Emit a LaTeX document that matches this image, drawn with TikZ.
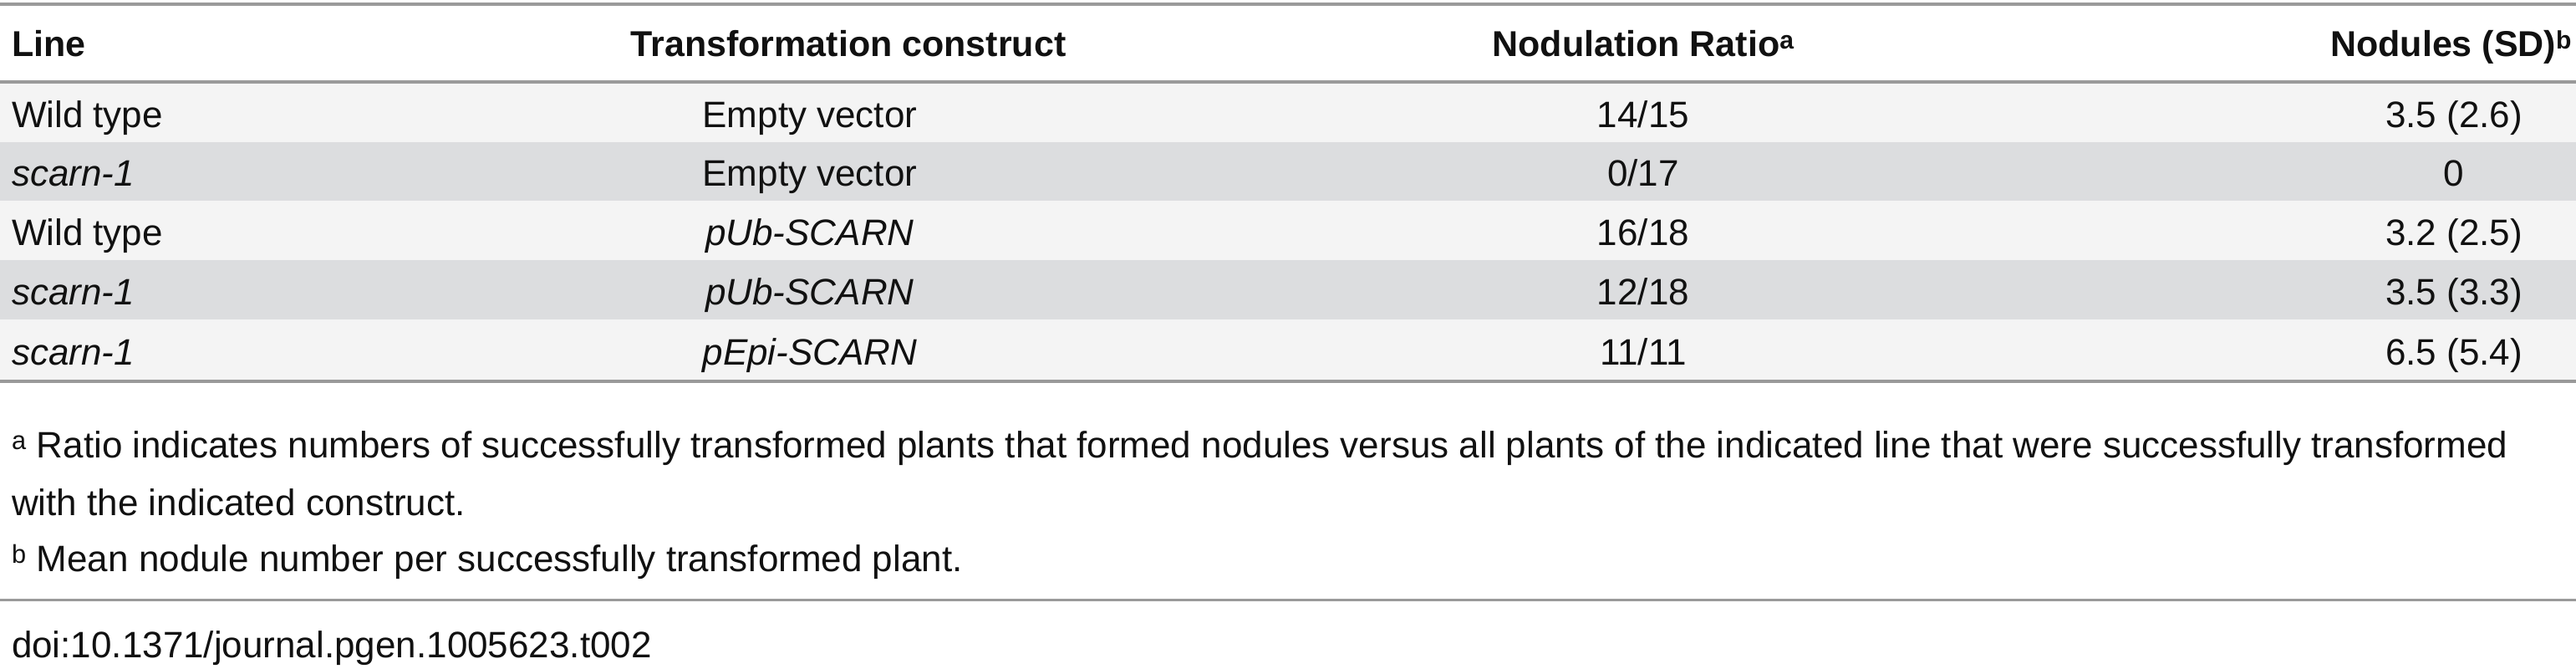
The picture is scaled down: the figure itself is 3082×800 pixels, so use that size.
\documentclass[tikz,border=0pt]{standalone}
\usepackage{fontspec}
\setmainfont{Liberation Sans}
\definecolor{rowA}{HTML}{F4F4F4}
\definecolor{rowB}{HTML}{DCDDDF}
\definecolor{rule}{HTML}{9A9A9A}
\definecolor{txt}{HTML}{111111}
\begin{document}
\begin{tikzpicture}[x=1pt,y=-1pt,
  every node/.style={inner sep=0pt,outer sep=0pt,text=txt,font=\fontsize{44}{52}\selectfont},
  hd/.style={font=\fontsize{43}{52}\selectfont\bfseries},
  rl/.style={rule,line width=4pt}]
\useasboundingbox (0,0) rectangle (3082,800);
\fill[white] (0,0) rectangle (3082,800);
% row backgrounds
\fill[rowA] (0,98) rectangle (3082,170);
\fill[rowB] (0,170) rectangle (3082,240);
\fill[rowA] (0,240) rectangle (3082,311);
\fill[rowB] (0,311) rectangle (3082,382);
\fill[rowA] (0,382) rectangle (3082,456);
% rules
\coordinate (t1) at (0,5); \coordinate (t2) at (3082,5);
\coordinate (h1) at (0,98); \coordinate (h2) at (3082,98);
\coordinate (b1) at (0,456); \coordinate (b2) at (3082,456);
\coordinate (f1) at (0,717); \coordinate (f2) at (3082,717);
\draw[rl] (t1) -- (t2);
\draw[rl] (h1) -- (h2);
\draw[rl] (b1) -- (b2);
\draw[rule,line width=3pt] (f1) -- (f2);
% header
\node[hd,anchor=base west] (hl) at (14,68) {Line};
\node[hd,anchor=base] (ht) at (1015,68) {Transformation construct};
\node[hd,anchor=base] (hr) at (1966,68) {Nodulation Ratio\textsuperscript{a}};
\node[hd,anchor=base east] (hn) at (3077,68) {Nodules (SD)\textsuperscript{b}};
% rows
\foreach \y/\l/\c/\r/\n [count=\i] in {
  152/Wild type/Empty vector/14\slash 15/3.5 (2.6),
  222/\textit{scarn-1}/Empty vector/0\slash 17/0,
  293/Wild type/\textit{pUb-SCARN}/16\slash 18/3.2 (2.5),
  364/\textit{scarn-1}/\textit{pUb-SCARN}/12\slash 18/3.5 (3.3),
  436/\textit{scarn-1}/\textit{pEpi-SCARN}/11\slash 11/6.5 (5.4)}{
  \node[anchor=base west] (l\i) at (14,\y) {\l};
  \node[anchor=base] (c\i) at (969,\y) {\c};
  \node[anchor=base] (r\i) at (1966,\y) {\r};
  \node[anchor=base] (n\i) at (2936,\y) {\n};
}
% footnotes
\node[anchor=base west] (fa) at (14,547) {\textsuperscript{a} Ratio indicates numbers of successfully transformed plants that formed nodules versus all plants of the indicated line that were successfully transformed};
\node[anchor=base west] (fa2) at (14,616) {with the indicated construct.};
\node[anchor=base west] (fb) at (14,683) {\textsuperscript{b} Mean nodule number per successfully transformed plant.};
\node[anchor=base west] (doi) at (14,786) {doi:10.1371/journal.pgen.1005623.t002};
\end{tikzpicture}
\end{document}
